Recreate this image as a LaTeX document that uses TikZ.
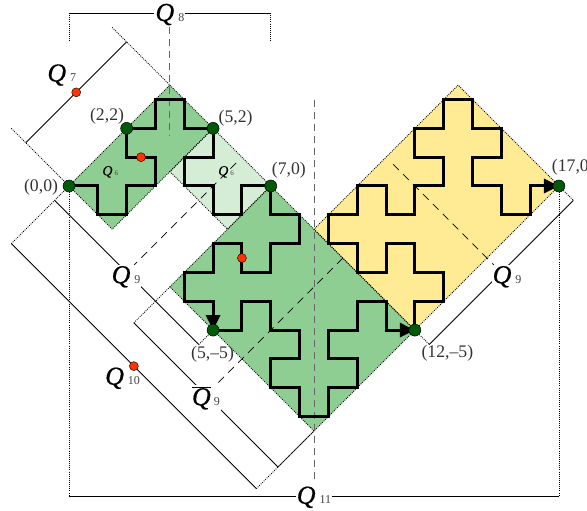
\documentclass[tikz,border=0pt]{standalone}
\usepackage{fontspec}
\setmainfont{Liberation Serif}
\newfontfamily\qfam{Liberation Serif}[ItalicFeatures={FakeBold=0.6}]
\newfontfamily\qsfam{Liberation Serif}[ItalicFeatures={FakeBold=0.2}]
\usetikzlibrary{arrows.meta}
\definecolor{greenfill}{HTML}{8ECE92}
\definecolor{lightgreen}{HTML}{D5ECD5}
\definecolor{yellowfill}{HTML}{FFEB94}
\definecolor{dotgreen}{HTML}{005A0A}
\definecolor{dotred}{HTML}{FF3300}
\definecolor{subgray}{HTML}{444444}
\definecolor{labelgray}{HTML}{333333}
\newcommand{\qlab}[1]{{\qfam\fontsize{26}{26}\selectfont\itshape Q}\hspace{4pt}{\fontsize{12}{12}\selectfont\color{subgray}#1}}
\newcommand{\qbarlab}[1]{$\overline{\mbox{\qfam\fontsize{26}{26}\selectfont\itshape Q}}$\hspace{3pt}{\fontsize{12}{12}\selectfont\color{subgray}#1}}
\newcommand{\qsmall}[1]{{\qsfam\fontsize{14}{14}\selectfont\itshape Q}\hspace{2pt}{\fontsize{7}{7}\selectfont\color{subgray}#1}}
\tikzset{
  region/.style={draw=black,line width=0.8pt,dash pattern=on 0.9pt off 1.2pt},
  dotline/.style={draw=black,line width=0.8pt,dash pattern=on 0.9pt off 1.2pt},
  dim/.style={draw=black,line width=0.9pt},
  axis/.style={draw=black!60,line width=0.9pt,dash pattern=on 7pt off 5pt},
  cut/.style={draw=black,line width=0.8pt,dash pattern=on 8pt off 6pt},
  curve/.style={draw=black,line width=3pt,line join=miter},
  tipcurve/.style={curve,-{Triangle[length=15pt,width=14pt]}},
  gdot/.style={circle,draw=black,line width=0.5pt,fill=dotgreen,minimum size=12pt,inner sep=0pt},
  rdot/.style={circle,draw=black,line width=0.4pt,fill=dotred,minimum size=9pt,inner sep=0pt},
  ptlabel/.style={text=labelgray,font=\fontsize{17.7}{17.7}\selectfont,inner sep=0pt},
  qnode/.style={fill=white,inner sep=1pt},
  qplain/.style={inner sep=0pt},
}
\begin{document}
\begin{tikzpicture}[x=28.82pt,y=28.82pt]
\useasboundingbox (-69pt,-325pt) rectangle (518pt,186pt);
% key points
\coordinate (c00) at (0,0);
\coordinate (c22) at (2,2);
\coordinate (c52) at (5,2);
\coordinate (c70) at (7,0);
\coordinate (c55) at (5,-5);
\coordinate (c125) at (12,-5);
\coordinate (c170) at (17,0);
\coordinate (topA) at (3.5,3.5);
\coordinate (botA) at (1.5,-1.5);
\coordinate (leftB) at (3.5,0.5);
\coordinate (botB) at (5.5,-1.5);
\coordinate (leftC) at (3.5,-3.5);
\coordinate (botC) at (8.5,-8.5);
\coordinate (leftD) at (8.5,-1.5);
\coordinate (topD) at (13.5,3.5);
% regions
\fill[lightgreen] (c52) -- (leftB) -- (botB) -- (c70) -- cycle;
\fill[greenfill] (c00) -- (topA) -- (c52) -- (botA) -- cycle;
\fill[yellowfill] (c125) -- (c170) -- (topD) -- (leftD) -- cycle;
\fill[greenfill] (c70) -- (c125) -- (botC) -- (leftC) -- cycle;
\draw[region] (c52) -- (leftB) -- (botB) -- (c70) -- cycle;
\draw[region] (c00) -- (topA) -- (c52) -- (botA) -- cycle;
\draw[region] (c125) -- (c170) -- (topD) -- (leftD) -- cycle;
\draw[region] (c70) -- (c125) -- (botC) -- (leftC) -- cycle;
% dimension corners
\coordinate (q7a) at (2,5);
\coordinate (q7b) at (-1.5,1.5);
\coordinate (q7c) at (1.5,5.5);
\coordinate (q7d) at (-2,2);
\coordinate (q8a) at (0,6);
\coordinate (q8b) at (7,6);
\coordinate (q8c) at (0,5);
\coordinate (q8d) at (7,5);
\coordinate (q9a) at (-0.5,-0.5);
\coordinate (q9b) at (4.5,-5.5);
\coordinate (q9c) at (12.5,-5.5);
\coordinate (q9d) at (17.5,-0.5);
\coordinate (qba) at (2.25,-4.75);
\coordinate (qbb) at (7.25,-9.75);
\coordinate (q10a) at (-2,-2);
\coordinate (q10b) at (6.5,-10.5);
\coordinate (q11a) at (0,-10.76);
\coordinate (q11b) at (17,-10.76);
% dotted extension lines
\draw[dotline] (q7c) -- (topA);
\draw[dotline] (q7d) -- (c00);
\draw[dotline] (q10a) -- (c00);
\draw[dotline] (q9b) -- (c55);
\draw[dotline] (qba) -- (leftC);
\draw[dotline] (qbb) -- (botC);
\draw[dotline] (q10b) -- (botC);
\draw[dotline] (c125) -- (q9c);
\draw[dotline] (c170) -- (q9d);
\draw[dotline] (q8a) -- (q8c);
\draw[dotline] (q8b) -- (q8d);
\draw[dotline] (c00) -- (q11a);
\draw[dotline] (c170) -- (q11b);
% dimension lines
\draw[dim] (q7a) -- (q7b);
\draw[dim] (q8a) -- (q8b);
\draw[dim] (q9a) -- (q9b);
\draw[dim] (q9c) -- (q9d);
\draw[dim] (qba) -- (qbb);
\draw[dim] (q10a) -- (q10b);
\draw[dim] (q11a) -- (q11b);
% axes
\coordinate (ax8a) at (3.5,5.5);
\coordinate (ax8b) at (3.5,1.75);
\coordinate (ax11a) at (8.5,3);
\coordinate (ax11b) at (8.5,-10.25);
\draw[axis] (ax8a) -- (ax8b);
\draw[axis] (ax11a) -- (ax11b);
\coordinate (cuta1) at (5.8,0.8);
\coordinate (cuta2) at (2.25,-2.75);
\coordinate (cutb1) at (9.5,-2.5);
\coordinate (cutb2) at (5,-7);
\coordinate (cutc1) at (11.25,0.75);
\coordinate (cutc2) at (14.75,-2.75);
\draw[cut] (cuta1) -- (cuta2);
\draw[cut] (cutb1) -- (cutb2);
\draw[cut] (cutc1) -- (cutc2);
% curves
\draw[curve] (c00) -- (1,0) -- (1,-1) -- (2,-1) -- (2,0) -- (3,0) -- (3,1) -- (2,1) -- (c22);
\draw[curve] (c22) -- (3,2) -- (3,3) -- (4,3) -- (4,2) -- (c52);
\draw[curve] (c52) -- (5,1) -- (4,1) -- (4,0) -- (5,0) -- (5,-1) -- (6,-1) -- (6,0) -- (c70);
\draw[tipcurve] (c70) -- (7,-1) -- (8,-1) -- (8,-2) -- (7,-2) -- (7,-3) -- (6,-3) -- (6,-2) -- (5,-2) -- (5,-3) -- (4,-3) -- (4,-4) -- (5,-4) -- (c55);
\draw[tipcurve] (c55) -- (6,-5) -- (6,-4) -- (7,-4) -- (7,-5) -- (8,-5) -- (8,-6) -- (7,-6) -- (7,-7) -- (8,-7) -- (8,-8) -- (9,-8) -- (9,-7) -- (10,-7) -- (10,-6) -- (9,-6) -- (9,-5) -- (10,-5) -- (10,-4) -- (11,-4) -- (11,-5) -- (c125);
\draw[tipcurve] (c125) -- (12,-4) -- (13,-4) -- (13,-3) -- (12,-3) -- (12,-2) -- (11,-2) -- (11,-3) -- (10,-3) -- (10,-2) -- (9,-2) -- (9,-1) -- (10,-1) -- (10,0) -- (11,0) -- (11,-1) -- (12,-1) -- (12,0) -- (13,0) -- (13,1) -- (12,1) -- (12,2) -- (13,2) -- (13,3) -- (14,3) -- (14,2) -- (15,2) -- (15,1) -- (14,1) -- (14,0) -- (15,0) -- (15,-1) -- (16,-1) -- (16,0) -- (c170);
% dots
\node[gdot] (n00) at (c00) {};
\node[gdot] (n22) at (c22) {};
\node[gdot] (n52) at (c52) {};
\node[gdot] (n70) at (c70) {};
\node[gdot] (n55) at (c55) {};
\node[gdot] (n125) at (c125) {};
\node[gdot] (n170) at (c170) {};
\node[rdot] (r7) at (0.25,3.25) {};
\node[rdot] (r6) at (2.5,1) {};
\node[rdot] (r9) at (6,-2.5) {};
\node[rdot] (r10) at (2.25,-6.25) {};
% point labels
\node[ptlabel] (l00) at (-0.97,-0.03) {(0,0)};
\node[ptlabel] (l22) at (1.32,2.42) {(2,2)};
\node[ptlabel] (l52) at (5.78,2.35) {(5,2)};
\node[ptlabel] (l70) at (7.63,0.55) {(7,0)};
\node[ptlabel,anchor=west] (l170) at (16.75,0.66) {(17,0)};
\node[ptlabel] (l55) at (4.98,-5.83) {(5,--5)};
\node[ptlabel] (l125) at (13.13,-5.82) {(12,--5)};
% Q labels
\node[qplain] (Q7) at (-0.25,3.85) {\qlab{7}};
\node[qnode] (Q8) at (3.5,5.95) {\qlab{8}};
\node[qnode] (Q9l) at (1.98,-3.15) {\qlab{9}};
\node[qnode] (Q9r) at (15.2,-3.15) {\qlab{9}};
\node[qnode] (Q9b) at (4.75,-7.35) {\qbarlab{9}};
\node[qplain] (Q10) at (1.86,-6.67) {\qlab{10}};
\node[qnode] (Q11) at (8.5,-10.8) {\qlab{11}};
\node[qplain] (Q6a) at (1.43,0.49) {\qsmall{6}};
\node[qplain] (Q6b) at (5.45,0.49) {\qsmall{6}};
\end{tikzpicture}
\end{document}
